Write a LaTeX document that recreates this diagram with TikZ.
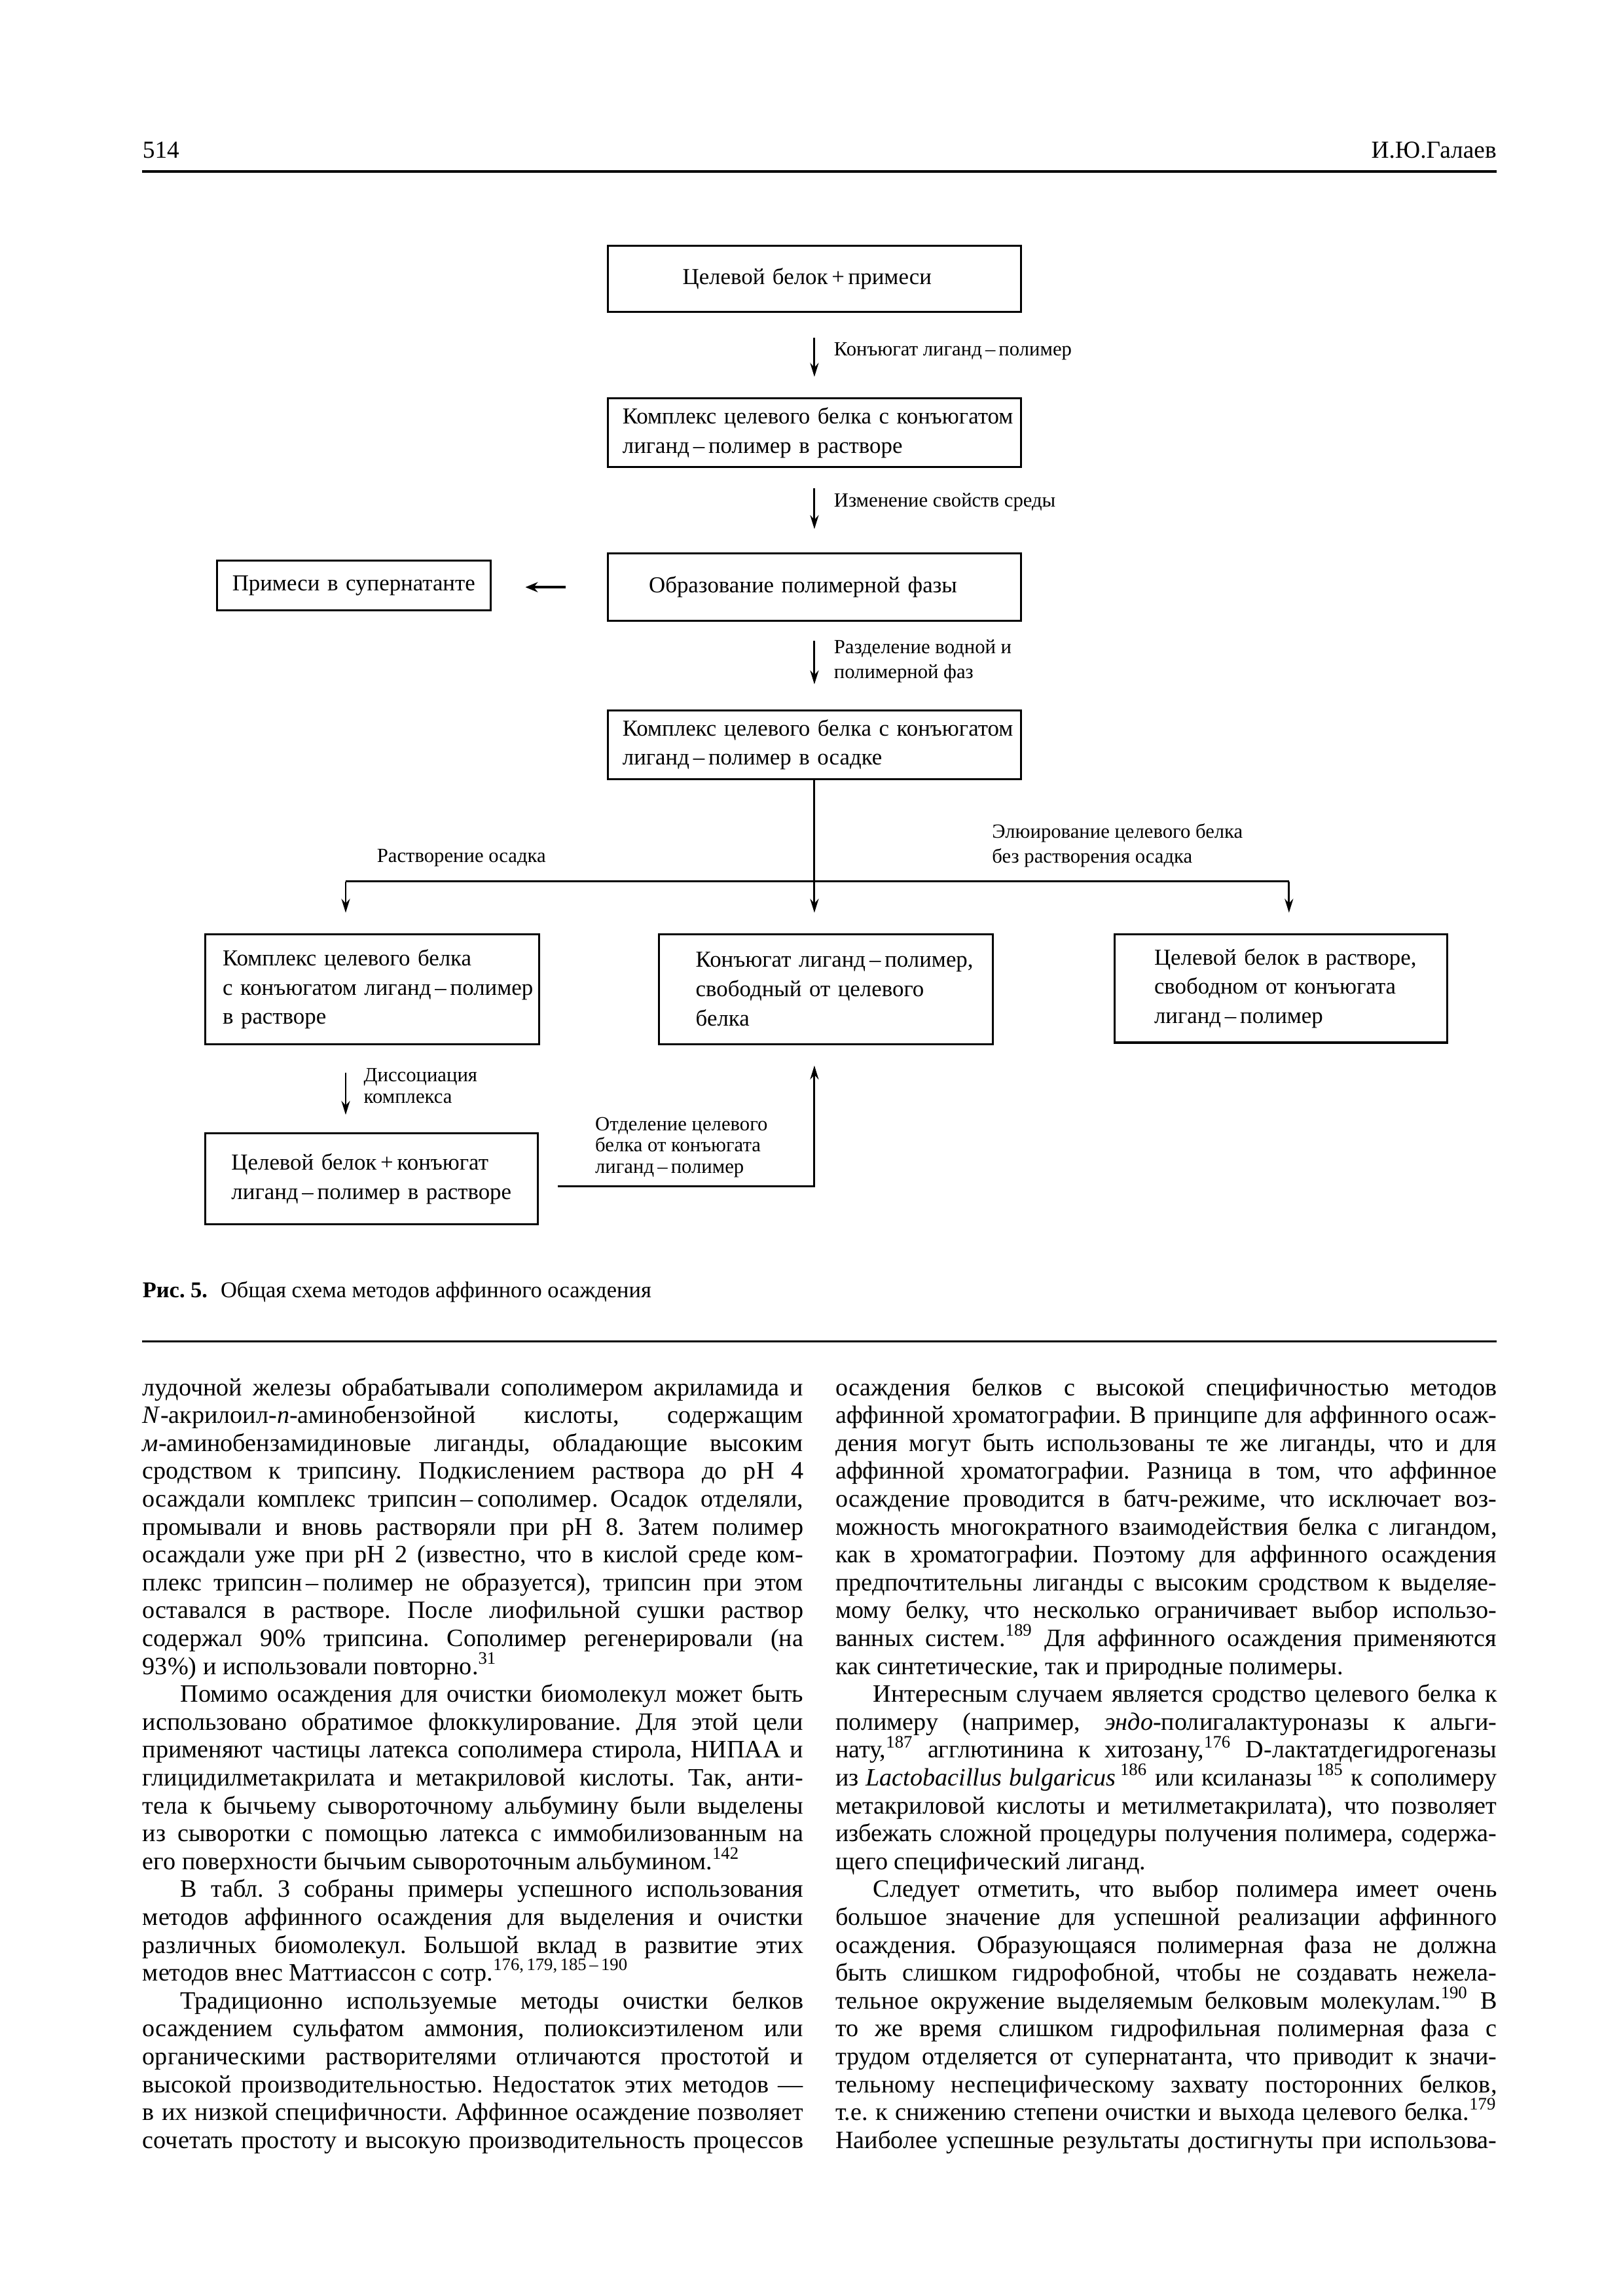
\documentclass[tikz,border=0pt]{standalone}
\usepackage{fontspec}
\setmainfont{Liberation Serif}
\usetikzlibrary{arrows.meta}

\begin{document}
\frenchspacing
\begin{tikzpicture}[x=0.18953mm, y=-0.18953mm,
  blk/.style={draw, line width=0.75pt, align=left, inner ysep=0pt, font=\fontsize{8.4}{10.75}\selectfont},
  lbl/.style={anchor=west, inner sep=0pt, align=left, font=\fontsize{7.4}{9.2}\selectfont},
  arr/.style={-{Stealth[length=1.8mm, width=1.1mm]}, line width=0.7pt},
  txtline/.style={anchor=base west, inner sep=0pt, font=\fontsize{9.2}{10}\selectfont}]
  \useasboundingbox (0,0) rectangle (1108,1568);

  % Running head
  \node[anchor=base west, inner sep=0pt, font=\fontsize{9}{10}\selectfont] (pagenum) at (97,108) {514};
  \node[anchor=base east, inner sep=0pt, font=\fontsize{9}{10}\selectfont] (author) at (1022,108) {И.Ю.Галаев};
  \draw[line width=1pt] (97,117) -- (1022,117);

  % Main column
  \node[blk, text width=34.11mm, inner xsep=9.67mm, minimum height=8.53mm] (start) at (556,190.5) {\mbox{Целевой белок\,+\,примеси}};
  \node[blk, text width=49.65mm, inner xsep=1.9mm, minimum height=8.9mm] (cplxsol) at (556,295.5) {\mbox{Комплекс целевого белка с конъюгатом}\\лиганд\,–\,полимер в растворе};
  \node[blk, text width=42.83mm, inner xsep=5.31mm, minimum height=8.72mm] (phase) at (556,401) {Образование полимерной фазы};
  \node[blk, text width=49.65mm, inner xsep=1.9mm, minimum height=8.9mm] (cplxprec) at (556,508.5) {\mbox{Комплекс целевого белка с конъюгатом}\\лиганд\,–\,полимер в осадке};

  % Supernatant
  \node[blk, align=center, text width=33.44mm, inner xsep=1mm, minimum height=6.44mm] (super) at (241.5,400) {\mbox{Примеси в супернатанте}};

  % Lower row
  \node[blk, text width=38.67mm, inner xsep=2.27mm, minimum height=14.21mm] (redis) at (254,675.5) {Комплекс целевого белка\\\mbox{с конъюгатом лиганд\,–\,полимер}\\в растворе};
  \node[blk, text width=33.73mm, inner xsep=4.74mm, minimum height=14.21mm] (free) at (564,675.5) {\mbox{Конъюгат лиганд\,–\,полимер,}\\свободный от целевого\\белка};
  \node[blk, text width=32.78mm, inner xsep=5.12mm, minimum height=14.03mm] (elut) at (874.5,675) {\mbox{Целевой белок в растворе,}\\\mbox{свободном от конъюгата}\\лиганд\,–\,полимер};
  \node[blk, text width=36.2mm, inner xsep=3.41mm, minimum height=11.75mm] (mix) at (253.5,805) {Целевой белок\,+\,конъюгат\\\mbox{лиганд\,–\,полимер в растворе}};

  % Arrows between steps
  \draw[arr, shorten <=3.22mm, shorten >=2.65mm] (start) -- (cplxsol);
  \draw[arr, shorten <=2.65mm, shorten >=3.03mm] (cplxsol) -- (phase);
  \draw[arr, shorten <=2.46mm, shorten >=3.22mm] (phase) -- (cplxprec);
  \draw[-{Stealth[length=1.6mm, width=1.3mm]}, line width=1pt, shorten <=5.31mm, shorten >=4.36mm] (phase.west) -- (phase.west -| super.east);

  \node[lbl] (lblconj) at (569,240) {Конъюгат лиганд\,–\,полимер};
  \node[lbl] (lblmedium) at (569,343) {Изменение свойств среды};
  \node[lbl] (lblsep) at (569,451.5) {Разделение водной и\\полимерной фаз};

  % Fork
  \coordinate (forkL) at (236,602);
  \coordinate (forkR) at (880,602);
  \draw[line width=0.7pt] (forkL) -- (forkR);
  \draw[arr, shorten >=2.65mm] (cplxprec.south) -- (cplxprec.south |- free.north);
  \draw[arr, shorten >=2.65mm] (forkL) -- (forkL |- redis.north);
  \draw[arr, shorten >=2.65mm] (forkR) -- (forkR |- elut.north);
  \node[lbl] (lbldiss) at (257,586) {Растворение осадка};
  \node[lbl] (lblelut) at (677,577.5) {Элюирование целевого белка\\без растворения осадка};

  % Dissociation and return
  \draw[arr, shorten <=3.6mm, shorten >=2.27mm] (forkL |- redis.south) -- (forkL |- mix.north);
  \node[lbl, font=\fontsize{7.4}{8.1}\selectfont] (lbldissoc) at (248,741.5) {Диссоциация\\комплекса};
  \coordinate (back) at (381,810);
  \draw[arr, shorten >=2.65mm] (back) -| (cplxprec.south |- free.south);
  \node[lbl, font=\fontsize{7.4}{7.9}\selectfont] (lblsplit) at (406,783.5) {Отделение целевого\\белка от конъюгата\\лиганд\,–\,полимер};

  % Caption
  \node[anchor=base west, inner sep=0pt, font=\fontsize{8.3}{10}\selectfont] (caption) at (97,886) {\textbf{Рис. 5.}\hspace{1.7mm}Общая схема методов аффинного осаждения};
  \draw[line width=0.6pt] (97,916) -- (1022,916);

  % Left column
  \foreach \txt [count=\i from 0] in {
    {лудочной железы обрабатывали сополимером акриламида и},
    {\textit{N}-акрилоил-\textit{п}-аминобензойной кислоты, содержащим},
    {\textit{м}-аминобензамидиновые лиганды, обладающие высоким},
    {сродством к трипсину. Подкислением раствора до pH 4},
    {осаждали комплекс трипсин\,–\,сополимер. Осадок отделяли,},
    {промывали и вновь растворяли при pH 8. Затем полимер},
    {осаждали уже при pH 2 (известно, что в кислой среде ком-},
    {плекс трипсин\,–\,полимер не образуется), трипсин при этом},
    {оставался в растворе. После лиофильной сушки раствор},
    {содержал 90\% трипсина. Сополимер регенерировали (на},
    {93\%) и использовали повторно.\textsuperscript{31}\hfill},
    {\hspace*{4.9mm}Помимо осаждения для очистки биомолекул может быть},
    {использовано обратимое флоккулирование. Для этой цели},
    {применяют частицы латекса сополимера стирола, НИПАА и},
    {глицидилметакрилата и метакриловой кислоты. Так, анти-},
    {тела к бычьему сывороточному альбумину были выделены},
    {из сыворотки с помощью латекса с иммобилизованным на},
    {его поверхности бычьим сывороточным альбумином.\textsuperscript{142}\hfill},
    {\hspace*{4.9mm}В табл. 3 собраны примеры успешного использования},
    {методов аффинного осаждения для выделения и очистки},
    {различных биомолекул. Большой вклад в развитие этих},
    {методов внес Маттиассон с сотр.\textsuperscript{176,\,179,\,185\,–\,190}\hfill},
    {\hspace*{4.9mm}Традиционно используемые методы очистки белков},
    {осаждением сульфатом аммония, полиоксиэтиленом или},
    {органическими растворителями отличаются простотой и},
    {высокой производительностью. Недостаток этих методов —},
    {в их низкой специфичности. Аффинное осаждение позволяет},
    {сочетать простоту и высокую производительность процессов}}
    \node[txtline] (left\i) at (97,953+19.04*\i) {\makebox[85.5mm][s]{\txt}};

  % Right column
  \foreach \txt [count=\i from 0] in {
    {осаждения белков с высокой специфичностью методов},
    {аффинной хроматографии. В принципе для аффинного осаж-},
    {дения могут быть использованы те же лиганды, что и для},
    {аффинной хроматографии. Разница в том, что аффинное},
    {осаждение проводится в батч-режиме, что исключает воз-},
    {можность многократного взаимодействия белка с лигандом,},
    {как в хроматографии. Поэтому для аффинного осаждения},
    {предпочтительны лиганды с высоким сродством к выделяе-},
    {мому белку, что несколько ограничивает выбор использо-},
    {ванных систем.\textsuperscript{189} Для аффинного осаждения применяются},
    {как синтетические, так и природные полимеры.\hfill},
    {\hspace*{4.9mm}Интересным случаем является сродство целевого белка к},
    {полимеру (например, \textit{эндо}-полигалактуроназы к альги-},
    {нату,\textsuperscript{187} агглютинина к хитозану,\textsuperscript{176} D-лактатдегидрогеназы},
    {из \textit{Lactobacillus bulgaricus}\,\textsuperscript{186} или ксиланазы\,\textsuperscript{185} к сополимеру},
    {метакриловой кислоты и метилметакрилата), что позволяет},
    {избежать сложной процедуры получения полимера, содержа-},
    {щего специфический лиганд.\hfill},
    {\hspace*{4.9mm}Следует отметить, что выбор полимера имеет очень},
    {большое значение для успешной реализации аффинного},
    {осаждения. Образующаяся полимерная фаза не должна},
    {быть слишком гидрофобной, чтобы не создавать нежела-},
    {тельное окружение выделяемым белковым молекулам.\textsuperscript{190} В},
    {то же время слишком гидрофильная полимерная фаза с},
    {трудом отделяется от супернатанта, что приводит к значи-},
    {тельному неспецифическому захвату посторонних белков,},
    {т.е. к снижению степени очистки и выхода целевого белка.\textsuperscript{179}},
    {Наиболее успешные результаты достигнуты при использова-}}
    \node[txtline] (right\i) at (570,953+19.04*\i) {\makebox[85.6mm][s]{\txt}};
\end{tikzpicture}
\end{document}
